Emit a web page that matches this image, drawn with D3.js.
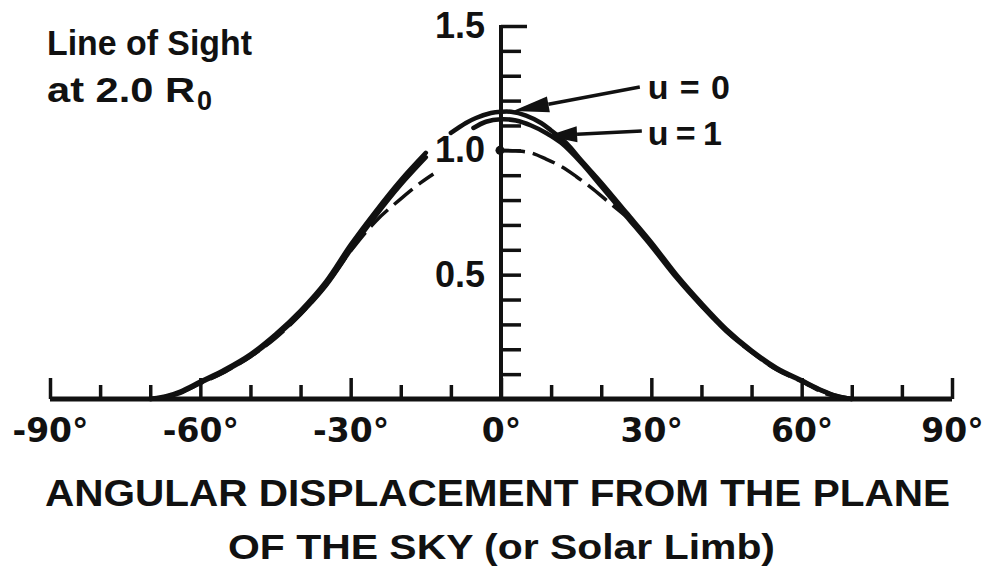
<!DOCTYPE html>
<html>
<head>
<meta charset="utf-8">
<script src="https://cdn.jsdelivr.net/npm/d3@7"></script>
<style>
  html, body { margin: 0; padding: 0; background: #fff; }
  svg { display: block; }
  text { fill: #111; font-family: "Liberation Sans", Arial, sans-serif; font-weight: bold; }
</style>
</head>
<body>
<svg id="chart" width="1000" height="569"></svg>
<script>
// Angular displacement (degrees) and relative intensity along the line of sight at 2.0 R0.
// Left flank, shared by both solid curves (interrupted near the "1.0" label).
const flankAngles   = [-70, -67, -64, -60, -55, -50, -45, -40, -35, -30, -25, -20, -15];
const u0Flank       = [0, 0.01, 0.03, 0.07, 0.12, 0.18, 0.26, 0.355, 0.47, 0.62, 0.755, 0.88, 0.99];
const u1Flank       = [0, 0.008, 0.025, 0.065, 0.113, 0.172, 0.25, 0.343, 0.455, 0.60, 0.737, 0.862, 0.972];

// Crest and right flank, u = 0
const u0Angles      = [-10, -7, -5, -2, 0, 2, 5, 8, 10, 13, 16, 20, 25, 30, 35, 40, 45, 50, 55, 60, 64, 67, 70];
const u0Values      = [1.07, 1.11, 1.13, 1.15, 1.155, 1.155, 1.14, 1.11, 1.08, 1.03, 0.96, 0.87, 0.75, 0.63, 0.50, 0.385, 0.28, 0.195, 0.125, 0.075, 0.035, 0.012, 0];

// Crest and right flank, u = 1
const u1Angles      = [-5.5, -3, 0, 3, 6, 9, 12, 16, 20, 25, 30, 35, 40, 45, 50, 55, 60, 64, 67, 70];
const u1Values      = [1.09, 1.115, 1.125, 1.12, 1.10, 1.07, 1.03, 0.95, 0.855, 0.735, 0.615, 0.488, 0.375, 0.272, 0.19, 0.12, 0.072, 0.033, 0.011, 0];

// Dashed reference curve (normalised to 1.0 at the plane of the sky)
const dashLeftAngles  = [-70, -65, -60, -55, -50, -45, -40, -35, -30, -25, -20, -16, -13.5];
const dashLeftValues  = [0, 0.018, 0.062, 0.11, 0.17, 0.245, 0.34, 0.455, 0.595, 0.715, 0.805, 0.87, 0.905];
const dashRightAngles = [0, 3, 6, 9, 12, 15, 18, 21, 24, 27, 30, 35, 40, 45, 50, 55, 60, 65, 70];
const dashRightValues = [1.0, 0.998, 0.99, 0.965, 0.935, 0.895, 0.85, 0.80, 0.75, 0.70, 0.62, 0.49, 0.375, 0.272, 0.188, 0.118, 0.07, 0.02, 0];

// Axis ticks and labels
const xMinorTicks = d3.range(-80, 90, 10).filter(d => d % 30 !== 0);
const xMajorTicks = [-90, -60, -30, 0, 30, 60, 90];
const xTickLabels = ["-90°", "-60°", "-30°", "0°", "30°", "60°", "90°"];
const yTicks      = d3.range(1, 16).map(d => d / 10);
const yLabelTicks = [0.5, 1.0, 1.5];
const yTickLabels = ["0.5", "1.0", "1.5"];

// Curve annotations: [tail angle, tail value, tip angle, tip value]
const labelU0 = "u = 0";
const labelU1 = "u = 1";
const arrowU0 = [27.7, 1.255, 2.4, 1.158];
const arrowU1 = [28.1, 1.078, 9.2, 1.058];

const svg = d3.select("#chart");
const x = d3.scaleLinear().domain([-90, 90]).range([50, 952]);
const y = d3.scaleLinear().domain([0, 1.5]).range([399, 26]);

const zip = (a, b) => a.map((d, i) => [d, b[i]]);
const line = d3.line().x(d => x(d[0])).y(d => y(d[1])).curve(d3.curveCatmullRom.alpha(0.5));

// x axis: baseline, upward ticks, labels below
svg.append("line")
  .attr("x1", x(-90)).attr("x2", x(90))
  .attr("y1", y(0)).attr("y2", y(0))
  .attr("stroke", "#111").attr("stroke-width", 5);

const xMinor = svg.append("g").attr("transform", `translate(0,${y(0)})`)
  .call(d3.axisBottom(x).tickValues(xMinorTicks).tickSize(-14).tickFormat(""));
const xMajor = svg.append("g").attr("transform", `translate(0,${y(0)})`)
  .call(d3.axisBottom(x).tickValues(xMajorTicks).tickSize(-21).tickPadding(20)
    .tickFormat((d, i) => xTickLabels[i]));
[xMinor, xMajor].forEach(g => {
  g.select(".domain").remove();
  g.selectAll(".tick line").attr("stroke", "#111").attr("stroke-width", 3.5);
});
xMajor.selectAll(".tick text")
  .style("font-family", "'DejaVu Sans', sans-serif")
  .style("font-weight", "bold")
  .style("font-size", "33px")
  .style("fill", "#111");

// y axis at the plane of the sky, ticks to the right, labels to the left
svg.append("line")
  .attr("x1", x(0)).attr("x2", x(0))
  .attr("y1", y(0)).attr("y2", y(1.5) - 1)
  .attr("stroke", "#111").attr("stroke-width", 4);

const yTickG = svg.append("g").attr("transform", `translate(${x(0)},0)`)
  .call(d3.axisRight(y).tickValues(yTicks).tickSize(20).tickFormat(""));
yTickG.select(".domain").remove();
yTickG.selectAll(".tick line")
  .attr("stroke", "#111").attr("stroke-width", 3.5)
  .attr("x2", d => d === 1.5 ? 26 : 20);

const yLab = svg.append("g").attr("transform", `translate(${x(0)},0)`)
  .call(d3.axisLeft(y).tickValues(yLabelTicks).tickSize(0).tickPadding(16)
    .tickFormat((d, i) => yTickLabels[i]));
yLab.select(".domain").remove();
yLab.selectAll(".tick text")
  .style("font-size", "36px")
  .style("fill", "#111");

// Curves
const solidSegments = [
  zip(flankAngles, u0Flank), zip(u0Angles, u0Values),
  zip(flankAngles, u1Flank), zip(u1Angles, u1Values)
];
svg.append("g").selectAll("path").data(solidSegments).join("path")
  .attr("d", line)
  .attr("fill", "none").attr("stroke", "#111")
  .attr("stroke-width", 4.5).attr("stroke-linecap", "round");

svg.append("g").selectAll("path")
  .data([zip(dashLeftAngles, dashLeftValues), zip(dashRightAngles, dashRightValues)])
  .join("path")
  .attr("d", line)
  .attr("fill", "none").attr("stroke", "#111")
  .attr("stroke-width", 3.5).attr("stroke-dasharray", "24,8");

svg.append("circle")
  .attr("cx", x(0) - 1).attr("cy", y(1.0))
  .attr("r", 4.5).attr("fill", "#111");

// Annotation arrows
function arrow(a, headLen, headHalf) {
  const [tx0, ty0, hx0, hy0] = [x(a[0]), y(a[1]), x(a[2]), y(a[3])];
  const ang = Math.atan2(ty0 - hy0, tx0 - hx0);
  const bx = hx0 + headLen * Math.cos(ang), by = hy0 + headLen * Math.sin(ang);
  const px = -Math.sin(ang) * headHalf, py = Math.cos(ang) * headHalf;
  svg.append("line")
    .attr("x1", tx0).attr("y1", ty0).attr("x2", bx).attr("y2", by)
    .attr("stroke", "#111").attr("stroke-width", 3.5);
  svg.append("path")
    .attr("d", `M${hx0},${hy0}L${bx + px},${by + py}L${bx - px},${by - py}Z`)
    .attr("fill", "#111");
}
arrow(arrowU0, 36, 8);
arrow(arrowU1, 30, 8);

svg.append("text").attr("x", x(arrowU0[0]) + 8).attr("y", y(arrowU0[1]) + 12)
  .attr("font-size", 34).attr("textLength", 82).attr("lengthAdjust", "spacing")
  .text(labelU0);
svg.append("text").attr("x", x(arrowU1[0]) + 6).attr("y", y(arrowU1[1]) + 14)
  .attr("font-size", 34).attr("textLength", 74).attr("lengthAdjust", "spacing")
  .text(labelU1);

// Top-left caption
svg.append("text").attr("x", 47).attr("y", 55)
  .attr("font-size", 35).attr("textLength", 205).attr("lengthAdjust", "spacingAndGlyphs")
  .text("Line of Sight");
const cap2 = svg.append("text").attr("x", 47).attr("y", 102).attr("font-size", 35);
cap2.append("tspan").attr("textLength", 148).attr("lengthAdjust", "spacingAndGlyphs").text("at 2.0 R");
cap2.append("tspan").attr("dx", 2).attr("dy", 8).attr("font-size", 27).text("0");

// Axis title
svg.append("text").attr("x", 45).attr("y", 506)
  .attr("font-size", 36).attr("textLength", 905).attr("lengthAdjust", "spacingAndGlyphs")
  .text("ANGULAR DISPLACEMENT FROM THE PLANE");
svg.append("text").attr("x", 228).attr("y", 559)
  .attr("font-size", 35).attr("textLength", 547).attr("lengthAdjust", "spacingAndGlyphs")
  .text("OF THE SKY (or Solar Limb)");
</script>
</body>
</html>
